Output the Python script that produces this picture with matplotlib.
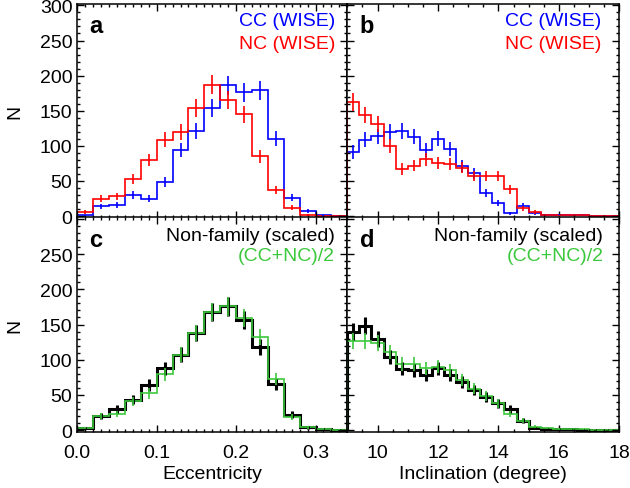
import numpy as np
import matplotlib.pyplot as plt
from matplotlib.ticker import MultipleLocator, FormatStrFormatter

plt.rcParams['font.family'] = ['Liberation Sans', 'DejaVu Sans']
plt.rcParams['font.size'] = 14

# bins
ecc_edges = np.linspace(0.0, 0.34, 18)
inc_edges = np.linspace(9.0, 18.2, 24)

# eccentricity histograms
cc_ecc = [1, 14, 16, 30, 25, 49, 94, 121, 154, 186, 176, 179, 110, 26, 7, 1, 0]
nc_ecc = [6, 25, 28, 53, 80, 109, 120, 154, 187, 165, 145, 85, 37, 12, 2, 0, 0]
nonfam_ecc = [3, 20, 30, 43, 64, 88, 107, 138, 168, 176, 156, 118, 65, 22, 4, 2, 0.5]
avg_ecc = [3, 20, 23, 41, 52, 79, 107, 138, 168, 176, 159, 132, 73, 19, 4, 2, 0.5]

# inclination histograms
cc_inc = [91, 109, 114, 120, 121, 113, 94, 110, 96, 71, 61, 33, 19, 4, 15, 4, 2, 2, 1, 1, 0, 0, 0]
nc_inc = [163, 144, 131, 100, 67, 72, 81, 76, 74, 69, 57, 57, 57, 38, 11, 6, 2, 1, 1, 1, 0, 0, 0]
nonfam_inc = [140, 148, 130, 104, 87, 85, 78, 88, 78, 68, 57, 47, 38, 30, 13, 3, 1.5, 1, 1, 0.5, 0.5, 0.3, 0.3]
avg_inc = [126, 127, 124, 111, 94, 94, 88, 90, 85, 71, 59, 48, 38, 23, 13, 5, 3, 2, 1, 1, 0.5, 0.3, 0.3]

BLUE = '#0000ff'
RED = '#ff0000'
GREEN = '#3cc83c'

fig = plt.figure(figsize=(6.3, 4.89), dpi=100)
x0, xm, x1 = 77.3 / 630, 347.3 / 630, 619.3 / 630
y1, ym, y0 = 1 - 5 / 489, 1 - 218.5 / 489, 1 - 432.5 / 489
ax_a = fig.add_axes([x0, ym, xm - x0, y1 - ym])
ax_b = fig.add_axes([xm, ym, x1 - xm, y1 - ym])
ax_c = fig.add_axes([x0, y0, xm - x0, ym - y0])
ax_d = fig.add_axes([xm, y0, x1 - xm, ym - y0])


def draw_hist(ax, edges, vals, color, lw):
    vals = np.array(vals, dtype=float)
    ax.stairs(vals, edges, color=color, lw=lw, baseline=0)
    centers = (edges[:-1] + edges[1:]) / 2
    ax.errorbar(centers, vals, yerr=np.sqrt(vals), fmt='none',
                ecolor=color, elinewidth=lw, capsize=0)


draw_hist(ax_a, ecc_edges, cc_ecc, BLUE, 1.2)
draw_hist(ax_a, ecc_edges, nc_ecc, RED, 1.2)
draw_hist(ax_b, inc_edges, cc_inc, BLUE, 1.2)
draw_hist(ax_b, inc_edges, nc_inc, RED, 1.2)
draw_hist(ax_c, ecc_edges, nonfam_ecc, 'black', 2.2)
draw_hist(ax_c, ecc_edges, avg_ecc, GREEN, 1.2)
draw_hist(ax_d, inc_edges, nonfam_inc, 'black', 2.2)
draw_hist(ax_d, inc_edges, avg_inc, GREEN, 1.2)

for ax in (ax_a, ax_b, ax_c, ax_d):
    ax.set_ylim(-2, 302)
    ax.yaxis.set_major_locator(MultipleLocator(50))
    ax.yaxis.set_minor_locator(MultipleLocator(10))
    ax.tick_params(which='both', direction='in', top=True, right=True, width=1)
    ax.tick_params(which='major', length=5)
    ax.tick_params(which='minor', length=2.5)
    ax.tick_params(axis='x', pad=9)
    for s in ax.spines.values():
        s.set_linewidth(1.1)

for ax in (ax_a, ax_c):
    ax.set_xlim(0, 0.34)
    ax.xaxis.set_major_locator(MultipleLocator(0.1))
    ax.xaxis.set_minor_locator(MultipleLocator(0.01))
    ax.xaxis.set_major_formatter(FormatStrFormatter('%.1f'))
    ax.set_ylabel('N', labelpad=12)
for ax in (ax_b, ax_d):
    ax.set_xlim(9, 18)
    ax.xaxis.set_major_locator(MultipleLocator(2))
    ax.xaxis.set_minor_locator(MultipleLocator(0.5))
    ax.tick_params(labelleft=False)
for ax in (ax_a, ax_b):
    ax.tick_params(labelbottom=False)

ax_a.set_yticks([0, 50, 100, 150, 200, 250, 300])
ax_c.set_yticks([0, 50, 100, 150, 200, 250, 300])
ax_c.set_yticklabels(['0', '50', '100', '150', '200', '250', ''])

ax_c.set_xlabel('Eccentricity', labelpad=3)
ax_d.set_xlabel('Inclination (degree)', labelpad=3)

# panel letters and labels
for ax, letter in ((ax_a, 'a'), (ax_b, 'b'), (ax_c, 'c'), (ax_d, 'd')):
    ax.text(0.045, 0.867, letter, transform=ax.transAxes, fontsize=17,
            fontweight='bold', va='baseline', ha='left')

ax_a.text(0.954, 0.90, 'CC (WISE)', color=BLUE, transform=ax_a.transAxes, ha='right', va='baseline')
ax_a.text(0.954, 0.792, 'NC (WISE)', color=RED, transform=ax_a.transAxes, ha='right', va='baseline')
ax_b.text(0.935, 0.90, 'CC (WISE)', color=BLUE, transform=ax_b.transAxes, ha='right', va='baseline')
ax_b.text(0.935, 0.792, 'NC (WISE)', color=RED, transform=ax_b.transAxes, ha='right', va='baseline')
ax_c.text(0.954, 0.896, 'Non-family (scaled)', color='black', transform=ax_c.transAxes, ha='right', va='baseline')
ax_c.text(0.954, 0.80, '(CC+NC)/2', color=GREEN, transform=ax_c.transAxes, ha='right', va='baseline')
ax_d.text(0.941, 0.896, 'Non-family (scaled)', color='black', transform=ax_d.transAxes, ha='right', va='baseline')
ax_d.text(0.941, 0.80, '(CC+NC)/2', color=GREEN, transform=ax_d.transAxes, ha='right', va='baseline')

fig.savefig('out.png', dpi=100)
